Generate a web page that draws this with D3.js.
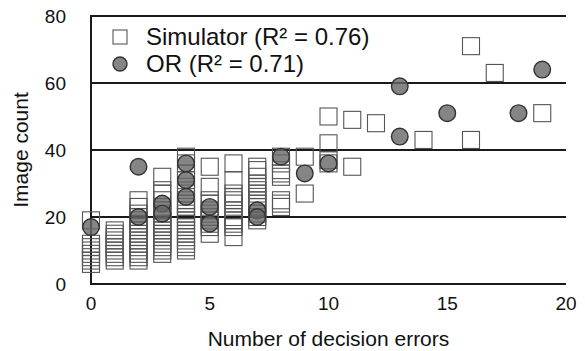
<!DOCTYPE html>
<html>
<head>
<meta charset="utf-8">
<script src="https://cdn.jsdelivr.net/npm/d3@7"></script>
<style>
   body{margin:0;background:#fff;}
   text{font-family:"Liberation Sans",Arial,sans-serif;fill:#111;}
</style>
</head>
<body>
<svg id="chart"></svg>
<script>
// data
var xTicks = [0,5,10,15,20];
var yTicks = [0,20,40,60,80];

// simulator: one list of image counts per number of decision errors
var simErrors = [0,1,2,3,4,5,6,7,8,9,10,11,12,14,16,17,19];
var simCounts = [
   [6,7,8,9,10,11,12,19],
   [7,8,9,10,11,12,13,14,15,16],
   [7,8,9,10,11,12,13,14,15,16,17,18,19,20,21,23,25],
   [9,10,11,12,13,14,15,16,17,18,19,20,21,22,23,25,27,28,32],
   [10,11,12,13,14,15,16,17,18,19,20,21,22,23,24,25,27,29,31,33,36,38],
   [15,17,18,19,20,21,22,24,25,29,35],
   [14,17,18,19,20,22,24,25,26,27,31,36],
   [19,20,21,23,24,25,26,27,28,29,30,32,34,35],
   [23,24,25,32,33,34,36,38],
   [27,38],
   [36,37,42,50],
   [35,49],
   [48],
   [43],
   [43,71],
   [63],
   [51]
];

// OR cases
var orErrors = [0,2,2,3,3,4,4,4,5,5,7,7,8,9,10,13,13,15,18,19];
var orCounts = [17,20,35,24,21,36,31,26,23,18,22,20,38,33,36,59,44,51,51,64];

var legendLabels = ["Simulator (R\u00b2 = 0.76)","OR (R\u00b2 = 0.71)"];
var xTitle = "Number of decision errors";
var yTitle = "Image count";

var W = 585, H = 351;
var m = {left:91, right:19, top:16, bottom:67};

var svg = d3.select("#chart").attr("width",W).attr("height",H);

var x = d3.scaleLinear().domain([0,20]).range([m.left, W-m.right]);
var y = d3.scaleLinear().domain([0,80]).range([H-m.bottom, m.top]);

// horizontal grid lines
svg.append("g").selectAll("line").data(yTicks).enter().append("line")
   .attr("x1",x(0)).attr("x2",x(20))
   .attr("y1",function(d){return y(d)}).attr("y2",function(d){return y(d)})
   .attr("stroke","#1a1a1a").attr("stroke-width",2);

// left axis line
svg.append("line")
   .attr("x1",x(0)).attr("x2",x(0))
   .attr("y1",y(0)+1).attr("y2",y(80)-1)
   .attr("stroke","#1a1a1a").attr("stroke-width",2);

// tick labels
svg.append("g").selectAll("text").data(yTicks).enter().append("text")
   .attr("x",m.left-25).attr("y",function(d){return y(d)+7.3})
   .attr("text-anchor","end").attr("font-size",19)
   .text(function(d){return d});

svg.append("g").selectAll("text").data(xTicks).enter().append("text")
   .attr("x",function(d){return x(d)}).attr("y",y(0)+26)
   .attr("text-anchor","middle").attr("font-size",19)
   .text(function(d){return d});

// axis titles
svg.append("text")
   .attr("x",(x(0)+x(20))/2).attr("y",346)
   .attr("text-anchor","middle").attr("font-size",21)
   .text(xTitle);

svg.append("text")
   .attr("transform","translate(28,"+((y(0)+y(80))/2)+") rotate(-90)")
   .attr("text-anchor","middle").attr("font-size",21)
   .text(yTitle);

// simulator squares
var sq = 17;
var simPts = [];
simErrors.forEach(function(e,i){
   simCounts[i].forEach(function(c){ simPts.push({e:e,c:c}); });
});
svg.append("g").selectAll("rect").data(simPts).enter().append("rect")
   .attr("x",function(d){return x(d.e)-sq/2})
   .attr("y",function(d){return y(d.c)-sq/2})
   .attr("width",sq).attr("height",sq)
   .attr("fill","none").attr("stroke","#555").attr("stroke-width",1.1);

// OR circles
svg.append("g").selectAll("circle").data(orErrors).enter().append("circle")
   .attr("cx",function(d){return x(d)})
   .attr("cy",function(d,i){return y(orCounts[i])})
   .attr("r",8.3)
   .attr("fill","#666").attr("fill-opacity",0.8)
   .attr("stroke","#333").attr("stroke-width",1.4);

// legend
var lg = svg.append("g");
lg.append("rect").attr("x",113).attr("y",30).attr("width",14).attr("height",14)
   .attr("fill","#fff").attr("stroke","#555").attr("stroke-width",1.1);
lg.append("circle").attr("cx",120).attr("cy",64).attr("r",7)
   .attr("fill","#666").attr("fill-opacity",0.8)
   .attr("stroke","#333").attr("stroke-width",1.4);
lg.selectAll("text").data(legendLabels).enter().append("text")
   .attr("x",146).attr("y",function(d,i){return 45+i*26.7})
   .attr("font-size",24)
   .text(function(d){return d});
</script>
</body>
</html>
